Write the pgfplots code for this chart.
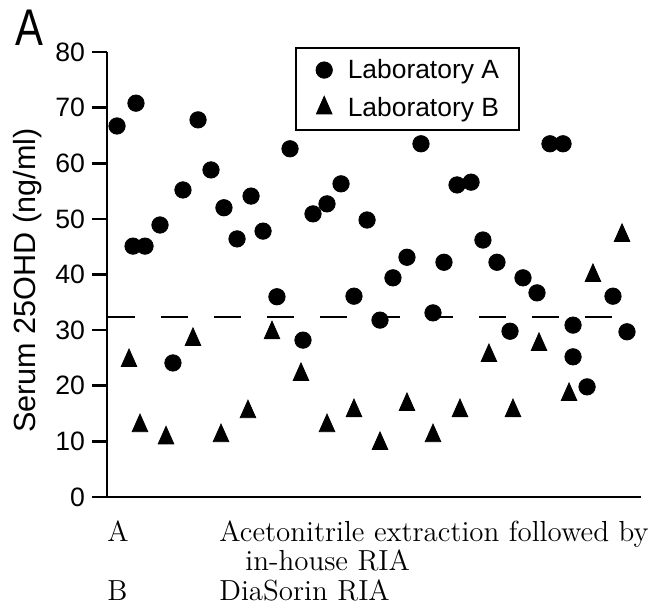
\documentclass[border=0pt]{standalone}
\usepackage{pgfplots}
\pgfplotsset{compat=1.18}
\usepackage{fontspec}
\newfontfamily\lsans{Liberation Sans}
\begin{document}
\begin{tikzpicture}
\path[use as bounding box] (0,0) rectangle (326pt,302.5pt);
\begin{axis}[
  at={(53.5pt,54pt)}, anchor=south west,
  scale only axis, width=267pt, height=222.5pt,
  xmin=0, xmax=40, ymin=0, ymax=80,
  axis x line*=bottom, axis y line*=left,
  axis line style={-, line width=1.4pt},
  xtick=\empty,
  ytick={0,10,...,80},
  tick align=outside, major tick length=7.5pt,
  ytick style={line width=1.3pt, black},
  /pgf/number format/assume math mode=true,
  yticklabel style={font=\lsans\fontsize{13.3}{14}\selectfont},
  ylabel={Serum 25OHD (ng/ml)},
  every axis y label/.style={at={(axis description cs:-0.133,0.4865)}, rotate=90, anchor=base, font=\lsans\fontsize{15.3}{16}\selectfont},
  clip=false,
  legend image code/.code={\draw[#1] plot coordinates {(0pt,0pt)};},
  legend cell align=left,
  legend style={at={(axis description cs:0.35206,1.01124)}, anchor=north west,
    draw=black, line width=1pt, inner xsep=10pt, inner ysep=5.5pt,
    font=\lsans\fontsize{13.2}{14}\selectfont,
    nodes={inner sep=0pt},
    row sep=7.6pt,
    /tikz/every odd column/.append style={column sep=7.7pt}},
]
\addplot[black, line width=1.2pt, dash pattern=on 13.5pt off 13pt, forget plot]
  coordinates {(0.075,32.4) (37.9,32.4)};
\addplot[only marks, mark=*, mark size=4.1pt, mark options={fill=black, draw=black, line width=0.4pt}]
  coordinates {
  (0.75,66.7) (1.95,45.1) (2.17,70.8) (2.85,45.1) (3.97,48.9) (4.94,24.1)
  (5.69,55.2) (6.82,67.8) (7.79,58.8) (8.76,52.0) (9.74,46.4) (10.79,54.1)
  (11.69,47.8) (12.73,36.0) (13.71,62.6) (14.68,28.2) (15.43,50.9) (16.48,52.7)
  (17.53,56.3) (18.50,36.1) (19.48,49.8) (20.45,31.8) (21.42,39.4) (22.47,43.1)
  (23.52,63.5) (24.42,33.1) (25.24,42.2) (26.22,56.1) (27.27,56.6) (28.16,46.2)
  (29.21,42.2) (30.19,29.8) (31.16,39.4) (32.21,36.7) (33.18,63.5) (34.16,63.5)
  (34.91,30.9) (34.91,25.2) (35.96,19.8) (37.90,36.1) (38.95,29.7)
  };
\addlegendentry{Laboratory A}
\addplot[only marks, mark=triangle*, mark size=4.5pt, mark options={fill=black, draw=black, line width=0.4pt, yscale=1.3}]
  coordinates {
  (1.65,24.5) (2.47,12.8) (4.42,10.6) (6.44,28.3) (8.54,11.0) (10.56,15.3)
  (12.36,29.5) (14.53,22.0) (16.48,12.8) (18.50,15.5) (20.45,9.6) (22.47,16.6)
  (24.42,11.0) (26.44,15.5) (28.61,25.4) (30.41,15.5) (32.36,27.4) (34.61,18.4)
  (36.40,39.8) (38.58,47.0)
  };
\addlegendentry{Laboratory B}
\end{axis}
\node[anchor=north west, inner sep=0pt, font=\lsans\fontsize{25.8}{26}\selectfont] at (7.5pt,297.5pt) {\scalebox{0.81}[1]{A}};
\begin{scope}[every node/.style={anchor=base west, inner sep=0pt, font=\fontsize{14.5}{15}\selectfont}]
\node at (53.5pt,32pt) {A};
\node at (109.5pt,32pt) {Acetonitrile extraction followed by};
\node at (122.5pt,17.5pt) {in-house RIA};
\node at (53.5pt,2.5pt) {B};
\node at (109.5pt,2.5pt) {DiaSorin RIA};
\end{scope}
\end{tikzpicture}
\end{document}
